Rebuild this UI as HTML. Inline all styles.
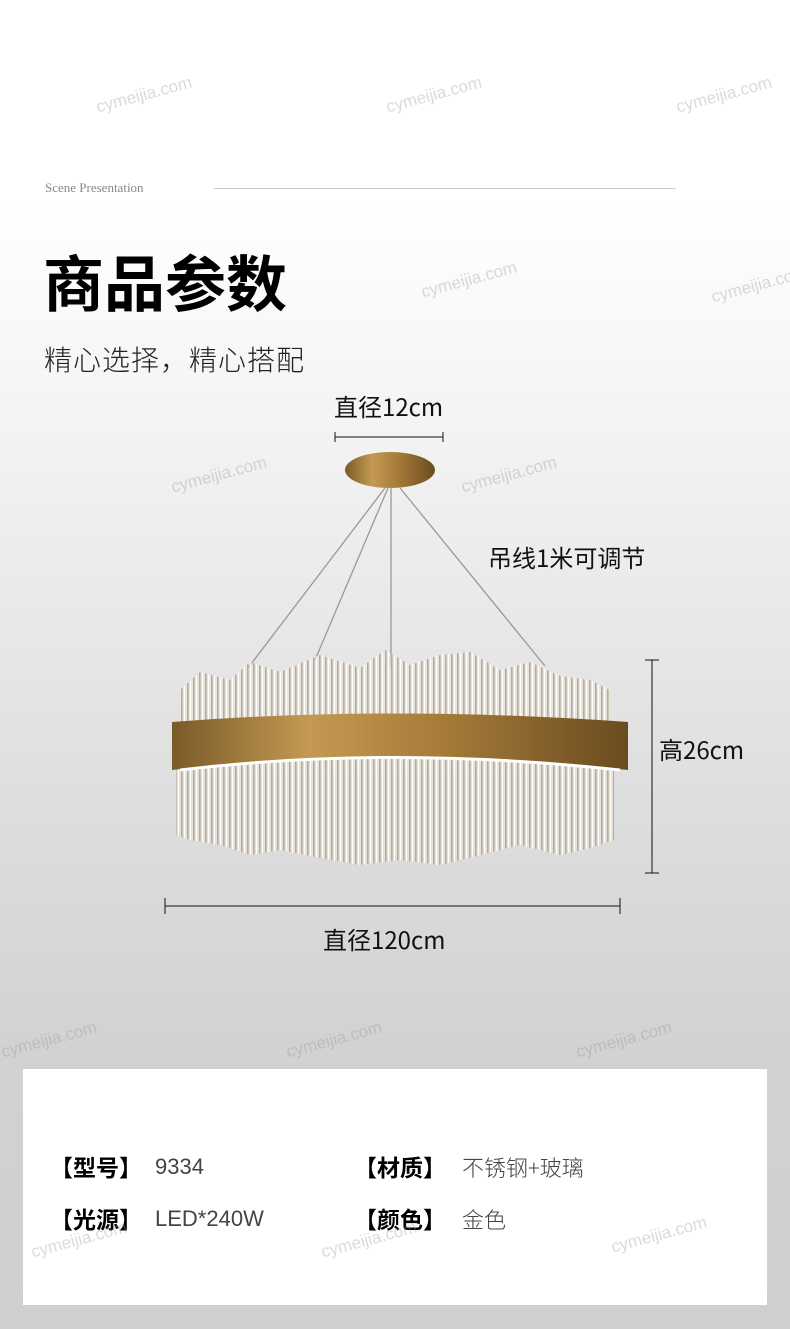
<!DOCTYPE html>
<html><head><meta charset="utf-8"><style>
body{margin:0;width:790px;height:1329px;overflow:hidden;font-family:"Liberation Sans","Noto Sans CJK SC",sans-serif;background:linear-gradient(#fff 0px,#fff 200px,#f2f2f2 450px,#dedede 800px,#d2d2d2 1050px,#cfcfcf 1329px);position:relative}
.a{position:absolute;white-space:nowrap}
.c{font-family:'Noto Sans CJK SC',sans-serif}
.wm{position:absolute;color:rgba(150,150,150,.35);font-size:17px;transform:rotate(-15deg)}
.l{font-size:23px;font-weight:bold;line-height:32px}
.v{font-size:22px;font-weight:300;color:#444;line-height:32px}
</style></head><body>
<div class="a" style="left:45px;top:180px;font-family:'Liberation Serif',serif;font-size:13px;color:#888">Scene Presentation</div>
<div class="a" style="left:214px;top:188px;width:462px;height:1px;background:#ccc"></div>
<div class="a c" style="left:43px;top:240px;font-size:61px;font-weight:bold;color:#000;line-height:80px">商品参数</div>
<div class="a c" style="left:44px;top:340px;font-size:28px;color:#222;font-weight:300;line-height:38px;letter-spacing:1px">精心选择，精心搭配</div>
<div class="a c" style="left:334px;top:390px;font-size:24px;color:#111;line-height:32px">直径12cm</div>
<div class="a c" style="left:488px;top:541px;font-size:24px;color:#111;line-height:32px">吊线1米可调节</div>
<div class="a c" style="left:659px;top:733px;font-size:24px;color:#111;line-height:32px">高26cm</div>
<div class="a c" style="left:323px;top:923px;font-size:24px;color:#111;line-height:32px">直径120cm</div>
<svg class="a" style="left:0;top:0" width="790" height="1000">
<defs>
<pattern id="rods" width="6" height="10" patternUnits="userSpaceOnUse">
<rect width="6" height="10" fill="rgba(235,230,220,.5)"/>
<rect x="1" width="1.6" height="10" fill="#b9ab90"/><rect x="4" width="1" height="10" fill="#fff"/>
</pattern>
<linearGradient id="gold" x1="0" x2="1"><stop offset="0" stop-color="#7a5a28"/><stop offset=".3" stop-color="#c49a52"/><stop offset=".6" stop-color="#a57a38"/><stop offset="1" stop-color="#6a4c20"/></linearGradient>
</defs>
<g stroke="#111" stroke-width="1"><line x1="335" y1="437" x2="443" y2="437"/><line x1="335" y1="432" x2="335" y2="442"/><line x1="443" y1="432" x2="443" y2="442"/>
<line x1="652" y1="660" x2="652" y2="873"/><line x1="645" y1="660" x2="659" y2="660"/><line x1="645" y1="873" x2="659" y2="873"/>
<line x1="165" y1="906" x2="620" y2="906"/><line x1="165" y1="898" x2="165" y2="914"/><line x1="620" y1="898" x2="620" y2="914"/></g>
<g stroke="#999" stroke-width="1.3"><line x1="385" y1="488" x2="248" y2="668"/><line x1="388" y1="488" x2="315" y2="660"/><line x1="391" y1="488" x2="391" y2="668"/><line x1="400" y1="488" x2="545" y2="666"/></g>
<ellipse cx="390" cy="470" rx="45" ry="18" fill="url(#gold)"/>
<polygon points="180,690 200,672 230,680 250,662 280,672 320,655 360,668 385,650 410,665 440,655 470,652 500,670 530,662 560,676 590,680 610,690 610,760 180,760" fill="url(#rods)"/>
<polygon points="176,760 614,760 614,840 590,848 560,855 520,845 480,855 440,865 400,860 360,865 320,858 280,850 250,855 220,845 190,840 176,835" fill="url(#rods)"/>
<path d="M172,722 Q390,705 628,722 L628,770 Q390,745 172,770 Z" fill="url(#gold)"/>
<path d="M180,770 Q390,745 620,770" stroke="#fff" stroke-width="3" fill="none"/>
</svg>
<div class="wm" style="left:95px;top:85px">cymeijia.com</div>
<div class="wm" style="left:385px;top:85px">cymeijia.com</div>
<div class="wm" style="left:675px;top:85px">cymeijia.com</div>
<div class="wm" style="left:420px;top:270px">cymeijia.com</div>
<div class="wm" style="left:710px;top:275px">cymeijia.com</div>
<div class="wm" style="left:170px;top:465px">cymeijia.com</div>
<div class="wm" style="left:460px;top:465px">cymeijia.com</div>
<div class="wm" style="left:0px;top:1030px">cymeijia.com</div>
<div class="wm" style="left:285px;top:1030px">cymeijia.com</div>
<div class="wm" style="left:575px;top:1030px">cymeijia.com</div>
<div class="a" style="left:23px;top:1069px;width:744px;height:236px;background:#fff"></div>
<div class="a c l" style="left:50px;top:1150px">【型号】</div><div class="a v" style="left:155px;top:1151px">9334</div>
<div class="a c l" style="left:50px;top:1202px">【光源】</div><div class="a v" style="left:155px;top:1203px">LED*240W</div>
<div class="a c l" style="left:354px;top:1150px">【材质】</div><div class="a v c" style="left:462px;top:1151px">不锈钢+玻璃</div>
<div class="a c l" style="left:354px;top:1202px">【颜色】</div><div class="a v c" style="left:462px;top:1203px">金色</div>
<div class="wm" style="left:30px;top:1230px">cymeijia.com</div>
<div class="wm" style="left:320px;top:1230px">cymeijia.com</div>
<div class="wm" style="left:610px;top:1225px">cymeijia.com</div>
</body></html>
